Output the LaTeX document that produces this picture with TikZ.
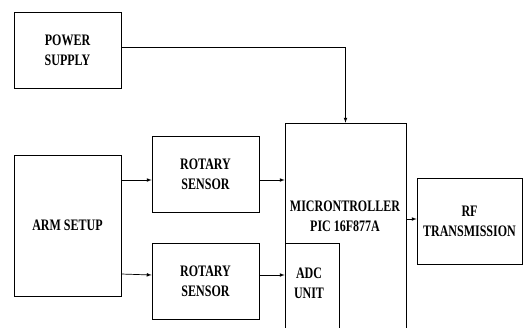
\documentclass[tikz,border=0pt]{standalone}
\usepackage{fontspec}
\setmainfont{Liberation Serif}
\newfontfamily\narrowserif{Liberation Serif}[FakeStretch=0.75]
\usetikzlibrary{positioning}

\begin{document}
\begin{tikzpicture}[x=1pt, y=-1pt, >=latex]

% Define styles for blocks and texts
\tikzset{blockbox/.style={
        draw, line width=0.7pt, inner sep=0pt},
        blocktext/.style={
        align=center, font=\narrowserif\bfseries\fontsize{16}{20}\selectfont}
        }

% Page frame (also crops the open boxes at the bottom)
\clip (0,0) rectangle (527,327);

% Left blocks
\node[blockbox, blocktext, minimum width=107pt, minimum height=76pt] (power) at (67.5,50) {POWER\\SUPPLY};
\node[blockbox, blocktext, minimum width=107pt, minimum height=141pt] (arm) at (67.5,225.5) {ARM SETUP};

% Sensors
\node[blockbox, blocktext, minimum width=107pt, minimum height=76pt] (rotaryA) at (205.5,174) {ROTARY\\SENSOR};
\node[blockbox, blocktext, minimum width=107pt, minimum height=76pt] (rotaryB) at (205.5,281) {ROTARY\\SENSOR};

% Microcontroller with ADC unit (both run off the bottom)
\node[blockbox, minimum width=121pt, minimum height=217pt] (micro) at (345.5,231.5) {};
\node[blocktext] (microtext) at (345,216.5) {MICRONTROLLER\\PIC 16F877A};
\node[blockbox, minimum width=54pt, minimum height=97pt] (adc) at (312,291.5) {};
\node[blocktext] (adctext) at (309,283) {ADC\\UNIT};

% Output block
\node[blockbox, blocktext, minimum width=105pt, minimum height=86pt] (rf) at (469.5,221) {RF\\TRANSMISSION};

% Connections
\draw[->, line width=0.7pt] (power.east |- 0,47) -| (micro.north);
\draw[->, line width=0.7pt] (arm.east |- 0,180) -- (rotaryA.west |- 0,180);
\draw[->, line width=0.7pt] (rotaryA.east |- 0,180) -- (micro.west |- 0,180);
\draw[->, line width=0.7pt] (arm.east |- 0,274) -- (rotaryB.west |- 0,275);
\draw[->, line width=0.7pt] (rotaryB.east |- 0,275) -- (adc.west |- 0,275);
\draw[->, line width=0.7pt] (micro.east |- 0,219) -- (rf.west |- 0,219);

\end{tikzpicture}
\end{document}
